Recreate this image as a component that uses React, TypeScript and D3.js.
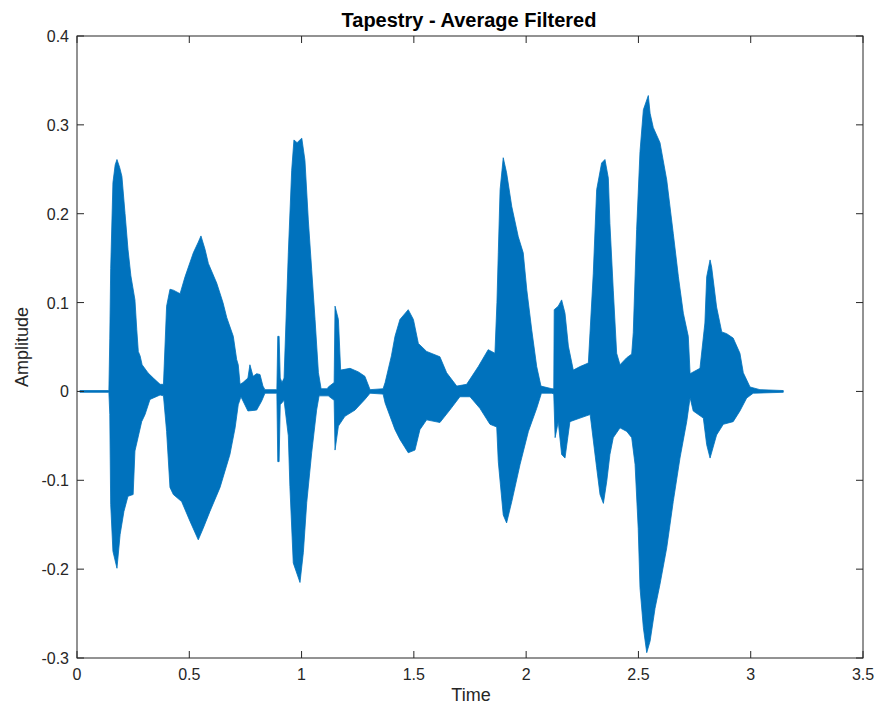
import React from "react";
import * as d3 from "d3";

const title = "Tapestry - Average Filtered";
const xLabel = "Time";
const yLabel = "Amplitude";
const xTicks = [0, 0.5, 1, 1.5, 2, 2.5, 3, 3.5];
const yTicks = [-0.3, -0.2, -0.1, 0, 0.1, 0.2, 0.3, 0.4];

// Upper envelope of the waveform: [time (s), amplitude]
const upperEnvelope: [number, number][] = [
  [0.013, 0.001], [0.142, 0.001], [0.146, 0.06], [0.15, 0.138], [0.16, 0.235], [0.17, 0.255],
  [0.178, 0.261], [0.19, 0.252], [0.2, 0.242], [0.214, 0.2], [0.227, 0.16], [0.24, 0.13],
  [0.258, 0.103], [0.266, 0.07], [0.273, 0.045], [0.281, 0.04], [0.29, 0.03], [0.316, 0.021],
  [0.34, 0.015], [0.37, 0.008], [0.385, 0.008], [0.399, 0.096], [0.414, 0.115], [0.429, 0.114],
  [0.459, 0.11], [0.481, 0.129], [0.518, 0.156], [0.54, 0.168], [0.552, 0.175], [0.57, 0.16],
  [0.585, 0.144], [0.622, 0.122], [0.65, 0.1], [0.667, 0.083], [0.696, 0.062], [0.711, 0.036],
  [0.718, 0.03], [0.726, 0.008], [0.739, 0.01], [0.761, 0.015], [0.77, 0.03], [0.784, 0.017],
  [0.8, 0.02], [0.815, 0.019], [0.828, 0.006], [0.837, 0.002], [0.89, 0.002], [0.894, 0.062],
  [0.9, 0.062], [0.905, 0.015], [0.913, 0.01], [0.922, 0.015], [0.941, 0.156], [0.956, 0.249],
  [0.966, 0.283], [0.98, 0.28], [1.001, 0.285], [1.015, 0.26], [1.03, 0.193], [1.045, 0.137],
  [1.06, 0.081], [1.075, 0.021], [1.087, 0.003], [1.115, 0.003], [1.119, 0.005], [1.145, 0.01],
  [1.149, 0.096], [1.164, 0.081], [1.174, 0.024], [1.216, 0.026], [1.253, 0.022], [1.282, 0.017],
  [1.305, 0.002], [1.363, 0.003], [1.372, 0.01], [1.4, 0.04], [1.416, 0.062], [1.438, 0.081],
  [1.475, 0.092], [1.498, 0.081], [1.52, 0.054], [1.557, 0.045], [1.616, 0.039], [1.646, 0.021],
  [1.691, 0.006], [1.735, 0.008], [1.787, 0.028], [1.831, 0.047], [1.861, 0.043], [1.87, 0.1],
  [1.876, 0.156], [1.884, 0.227], [1.898, 0.263], [1.913, 0.246], [1.936, 0.208], [1.965, 0.174],
  [1.987, 0.156], [2.003, 0.114], [2.025, 0.069], [2.047, 0.028], [2.066, 0.006], [2.115, 0.003],
  [2.123, 0.003], [2.125, 0.092], [2.143, 0.096], [2.158, 0.103], [2.173, 0.088], [2.188, 0.051],
  [2.21, 0.024], [2.24, 0.028], [2.277, 0.032], [2.299, 0.133], [2.314, 0.227], [2.336, 0.257],
  [2.351, 0.261], [2.366, 0.24], [2.373, 0.189], [2.388, 0.114], [2.403, 0.043], [2.418, 0.03],
  [2.448, 0.038], [2.47, 0.042], [2.477, 0.066], [2.492, 0.182], [2.507, 0.27], [2.522, 0.317],
  [2.544, 0.333], [2.552, 0.313], [2.566, 0.297], [2.596, 0.28], [2.626, 0.238], [2.655, 0.178],
  [2.678, 0.129], [2.7, 0.088], [2.722, 0.062], [2.73, 0.02], [2.774, 0.026], [2.796, 0.077],
  [2.804, 0.129], [2.819, 0.148], [2.826, 0.14], [2.848, 0.095], [2.871, 0.067], [2.893, 0.065],
  [2.922, 0.06], [2.952, 0.043], [2.967, 0.021], [2.997, 0.005], [3.041, 0.002], [3.145, 0.001],
];

// Lower envelope of the waveform: [time (s), amplitude]
const lowerEnvelope: [number, number][] = [
  [0.013, -0.001], [0.142, -0.001], [0.146, -0.026], [0.15, -0.127], [0.16, -0.18], [0.178, -0.199],
  [0.192, -0.161], [0.209, -0.135], [0.227, -0.118], [0.25, -0.116], [0.258, -0.067], [0.288, -0.034],
  [0.303, -0.026], [0.325, -0.009], [0.37, -0.004], [0.385, -0.005], [0.399, -0.045], [0.414, -0.108],
  [0.429, -0.116], [0.466, -0.124], [0.503, -0.146], [0.54, -0.167], [0.562, -0.154], [0.592, -0.135],
  [0.637, -0.108], [0.681, -0.071], [0.704, -0.041], [0.718, -0.015], [0.73, -0.006], [0.761, -0.022],
  [0.8, -0.021], [0.822, -0.011], [0.837, -0.002], [0.89, -0.002], [0.894, -0.079], [0.9, -0.079],
  [0.905, -0.015], [0.922, -0.01], [0.941, -0.05], [0.948, -0.107], [0.963, -0.193], [0.993, -0.215],
  [1.008, -0.181], [1.023, -0.125], [1.045, -0.069], [1.067, -0.021], [1.078, -0.005], [1.119, -0.005],
  [1.145, -0.01], [1.149, -0.066], [1.164, -0.039], [1.193, -0.028], [1.238, -0.021], [1.282, -0.009],
  [1.305, -0.002], [1.363, -0.003], [1.372, -0.013], [1.416, -0.043], [1.438, -0.054], [1.475, -0.069],
  [1.505, -0.066], [1.527, -0.043], [1.557, -0.032], [1.616, -0.035], [1.66, -0.021], [1.705, -0.006],
  [1.75, -0.006], [1.794, -0.019], [1.839, -0.037], [1.869, -0.04], [1.876, -0.079], [1.898, -0.139],
  [1.913, -0.148], [1.936, -0.124], [1.973, -0.082], [2.01, -0.045], [2.047, -0.019], [2.068, -0.002],
  [2.115, -0.002], [2.123, -0.003], [2.129, -0.052], [2.143, -0.034], [2.158, -0.071], [2.173, -0.075],
  [2.195, -0.034], [2.24, -0.03], [2.285, -0.026], [2.314, -0.086], [2.329, -0.116], [2.344, -0.126],
  [2.359, -0.101], [2.373, -0.071], [2.388, -0.052], [2.418, -0.041], [2.448, -0.045], [2.47, -0.052],
  [2.485, -0.082], [2.499, -0.154], [2.507, -0.221], [2.522, -0.266], [2.537, -0.294], [2.552, -0.281],
  [2.574, -0.244], [2.596, -0.217], [2.626, -0.176], [2.655, -0.124], [2.685, -0.075], [2.715, -0.034],
  [2.73, -0.007], [2.744, -0.022], [2.789, -0.03], [2.804, -0.06], [2.819, -0.075], [2.848, -0.049],
  [2.878, -0.037], [2.922, -0.034], [2.952, -0.022], [2.982, -0.0075], [3.011, -0.002], [3.145, -0.001],
];

const W = 878;
const H = 711;
const M = { left: 77, right: 863, top: 36, bottom: 658 };
const FONT = "'Liberation Sans', Arial, Helvetica, sans-serif";
const AXIS = "#262626";
const WAVE = "#0072BD";

export default function App() {
  const x = d3.scaleLinear().domain([0, 3.5]).range([M.left, M.right]);
  const y = d3.scaleLinear().domain([-0.3, 0.4]).range([M.bottom, M.top]);

  const poly = [...upperEnvelope, ...lowerEnvelope.slice().reverse()];
  const line = d3
    .line<[number, number]>()
    .x((d) => x(d[0]))
    .y((d) => y(d[1]));
  const wavePath = (line(poly) || "") + "Z";

  const tl = 7;
  return (
    <svg
      width={W}
      height={H}
      style={{ position: "absolute", left: 0, top: 0, background: "#fff" }}
      fontFamily={FONT}
    >
      <rect x={0} y={0} width={W} height={H} fill="#fff" />
      <path d={wavePath} fill={WAVE} stroke={WAVE} strokeWidth={0.8} strokeLinejoin="round" />

      {/* box */}
      <rect
        x={M.left}
        y={M.top}
        width={M.right - M.left}
        height={M.bottom - M.top}
        fill="none"
        stroke={AXIS}
        strokeWidth={1}
      />
      {xTicks.map((t) => (
        <g key={"xt" + t}>
          <line x1={x(t)} x2={x(t)} y1={M.bottom} y2={M.bottom - tl} stroke={AXIS} />
          <line x1={x(t)} x2={x(t)} y1={M.top} y2={M.top + tl} stroke={AXIS} />
          <text x={x(t)} y={M.bottom + 22} textAnchor="middle" fontSize={16} fill={AXIS}>
            {String(t)}
          </text>
        </g>
      ))}
      {yTicks.map((t) => (
        <g key={"yt" + t}>
          <line x1={M.left} x2={M.left + tl} y1={y(t)} y2={y(t)} stroke={AXIS} />
          <line x1={M.right} x2={M.right - tl} y1={y(t)} y2={y(t)} stroke={AXIS} />
          <text x={M.left - 8} y={y(t) + 6} textAnchor="end" fontSize={16} fill={AXIS}>
            {String(t)}
          </text>
        </g>
      ))}
      <text x={469} y={26.5} textAnchor="middle" fontSize={20} fontWeight="bold" fill="#000">
        {title}
      </text>
      <text x={471} y={701} textAnchor="middle" fontSize={18} fill={AXIS}>
        {xLabel}
      </text>
      <text
        transform={`translate(28, ${(M.top + M.bottom) / 2}) rotate(-90)`}
        textAnchor="middle"
        fontSize={18}
        fill={AXIS}
      >
        {yLabel}
      </text>
    </svg>
  );
}
